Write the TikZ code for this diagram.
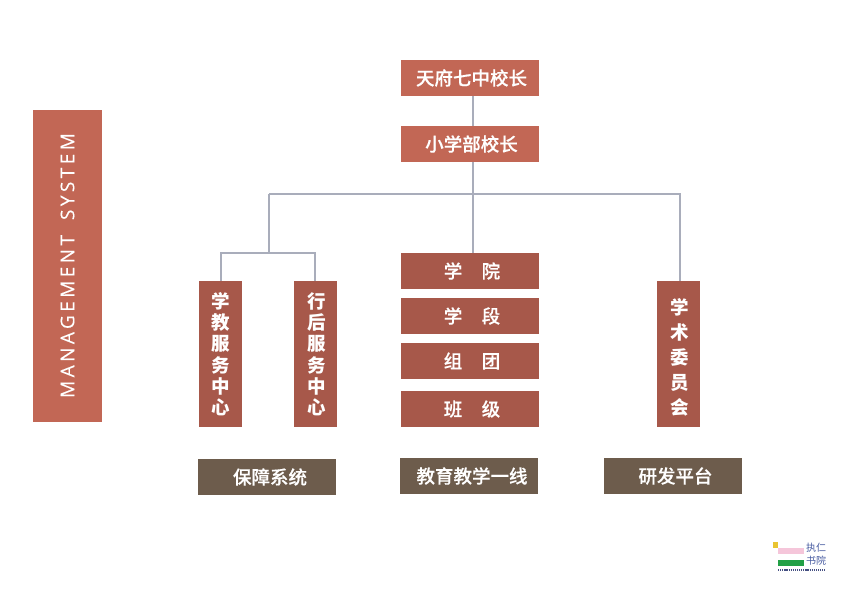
\documentclass[tikz,border=0pt]{standalone}
\usepackage{fontspec}
\setmainfont{Noto Sans CJK SC}
\newfontfamily\medf[FakeBold=0.35]{Noto Sans CJK SC Medium}
\newfontfamily\latinf[FakeBold=0.25]{Open Sans}
\definecolor{lightred}{HTML}{C26755}
\definecolor{darkred}{HTML}{A7584A}
\definecolor{brownbox}{HTML}{6D5C4C}
\definecolor{linec}{HTML}{A9ADBB}
\definecolor{logoyellow}{HTML}{E9C432}
\definecolor{logopink}{HTML}{F5C6DA}
\definecolor{logogreen}{HTML}{22A046}
\definecolor{logoblue}{HTML}{465AA0}
\definecolor{logodark}{HTML}{465082}
\tikzset{
 x=1pt,y=-1pt,
 boxbase/.style={inner sep=0pt,text=white,font=\medf\fontsize{18.5}{18.5}\selectfont,align=center},
 wide/.style={boxbase,fill=darkred,minimum width=138pt,minimum height=36pt},
 widelight/.style={wide,fill=lightred},
 tall/.style={boxbase,fill=darkred,minimum width=43pt,minimum height=146pt},
 foot/.style={boxbase,fill=brownbox,minimum width=138pt,minimum height=36pt},
 tallchar/.style={boxbase,font=\fontsize{18.5}{18.5}\selectfont\bfseries},
 conn/.style={draw=linec,line width=1.5pt},
}
\begin{document}
\begin{tikzpicture}
\useasboundingbox (0,0) rectangle (850,595);
\node[boxbase,fill=lightred,minimum width=69pt,minimum height=312pt] (panel) at (67.5,266) {};
\node[text=white,rotate=90,inner sep=0pt,font=\latinf\fontsize{19}{20}\selectfont] (paneltext) at (67.5,265.5) {\addfontfeature{LetterSpace=18}MANAGEMENT\hspace{0.35em} SYSTEM};

\node[widelight] (top) at (470,78) {\hspace{3pt}天府七中校长};
\node[widelight] (sub) at (470,144) {\hspace{3pt}小学部校长};
\node[wide] (xy) at (470,271) {\hspace{4pt}学\hspace{1.05em}院};
\node[wide] (xd) at (470,316) {\hspace{4pt}学\hspace{1.05em}段};
\node[wide] (zt) at (470,361) {\hspace{4pt}组\hspace{1.05em}团};
\node[wide] (bj) at (470,409) {\hspace{4pt}班\hspace{1.05em}级};

\node[tall] (jx) at (220.5,354) {};
\node[tall] (hq) at (315.5,354) {};
\node[tall] (xs) at (678.5,354) {};
\foreach \c [count=\i from 0] in {学,教,服,务,中,心}
  \node[tallchar] (jx\i) at (221,301.5+21.2*\i) {\c};
\foreach \c [count=\i from 0] in {行,后,服,务,中,心}
  \node[tallchar] (hq\i) at (316.5,301.5+21.2*\i) {\c};
\foreach \c [count=\i from 0] in {学,术,委,员,会}
  \node[tallchar] (xs\i) at (679.5,307+25.2*\i) {\c};

\node[foot] (f1) at (267,477) {\hspace{6pt}保障系统};
\node[foot] (f2) at (469,476) {\hspace{6pt}教育教学一线};
\node[foot] (f3) at (673,476) {\hspace{5pt}研发平台};

\coordinate (tr) at (473,194);
\coordinate (la) at (269,194);
\coordinate (ra) at (680,194);
\coordinate (lb) at (269,253);
\coordinate (lc) at (221,253);
\coordinate (ld) at (315,253);
\draw[conn] (tr |- top.south) -- (tr |- sub.north);
\draw[conn] (tr |- sub.south) -- (tr |- xy.north);
\draw[conn] (la) -- (ra) -- (ra |- xs.north);
\draw[conn] (la) -- (lb);
\draw[conn] (lc |- jx.north) -- (lc) -- (ld) -- (ld |- hq.north);

% logo
\fill[logoyellow] (773,542) rectangle (778,548);
\fill[logopink] (778,548) rectangle (804,554);
\fill[logogreen] (778,560) rectangle (804,566);
\node[text=logoblue,inner sep=0pt,font=\fontsize{10}{10}\selectfont] (logo1) at (816,548) {执仁};
\node[text=logoblue,inner sep=0pt,font=\fontsize{10}{10}\selectfont] (logo2) at (816,561) {书院};
\draw[logodark,line width=1.3pt,dash pattern=on 1.2pt off 0.9pt] (778,570) -- (825,570);
\end{tikzpicture}
\end{document}
